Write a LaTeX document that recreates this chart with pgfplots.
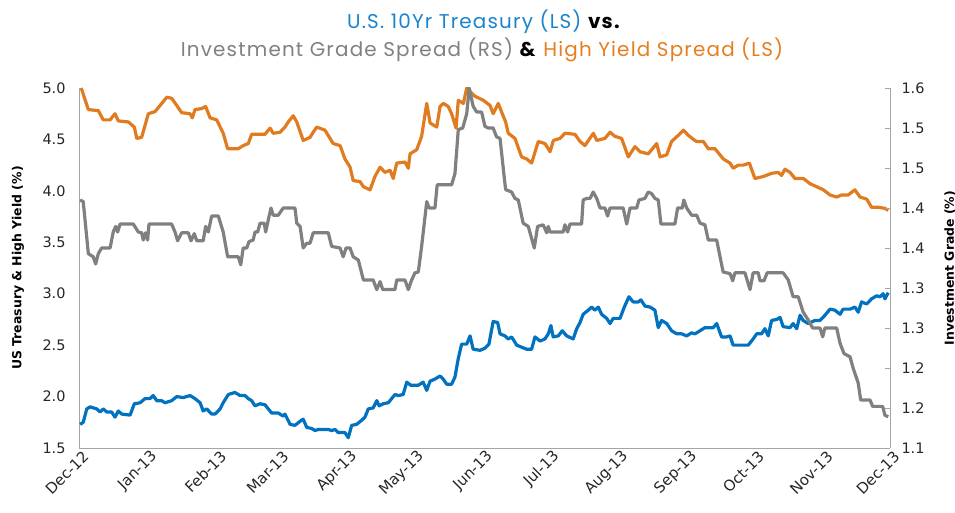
\documentclass[border=0pt]{standalone}
\usepackage{fontspec}
\usepackage{pgfplots}
\pgfplotsset{compat=1.18}
\setmainfont{DejaVu Sans}
\newfontfamily\titlefont[LetterSpace=6]{Poppins}
\definecolor{cBlue}{RGB}{0,114,192}
\definecolor{cOrange}{RGB}{225,123,32}
\definecolor{cGray}{RGB}{128,128,128}
\definecolor{tBlue}{RGB}{25,132,205}
\definecolor{tGray}{RGB}{128,128,128}
\definecolor{tOrange}{RGB}{230,125,30}
\definecolor{axisgray}{RGB}{165,165,165}
\begin{document}
\begin{tikzpicture}
\useasboundingbox (-79bp,-65bp) rectangle (876bp,448bp);
\begin{axis}[
  at={(0,0)}, anchor=south west,
  scale only axis, width=811bp, height=360bp,
  xmin=0, xmax=365, ymin=1.5, ymax=5.0,
  axis x line*=bottom, axis y line*=left,
  axis line style={draw=axisgray, line width=0.8bp, -},
  xtick={0,31,62,90,121,151,182,212,243,274,304,335,365},
  xticklabels={Dec-12,Jan-13,Feb-13,Mar-13,Apr-13,May-13,Jun-13,Jul-13,Aug-13,Sep-13,Oct-13,Nov-13,Dec-13},
  ytick={1.5,2.0,2.5,3.0,3.5,4.0,4.5,5.0},
  yticklabels={1.5,2.0,2.5,3.0,3.5,4.0,4.5,5.0},
  major tick length=0pt,
  tick label style={font=\fontsize{14.5}{16}\selectfont, text=black!85},
  xticklabel style={rotate=45, anchor=east, xshift=4bp, yshift=-9bp, font=\fontsize{15}{16}\selectfont},
  yticklabel style={anchor=east, xshift=-10bp},
  ylabel={US Treasury \& High Yield (\%)},
  ylabel style={font=\bfseries\fontsize{12.5}{14}\selectfont, at={(axis description cs:-0.0752,0.5)}, anchor=center},
]
\addplot[cOrange, line width=3.2bp, line join=round] coordinates {
(1.0,5.00)(4.2,4.79)(8.7,4.78)(10.9,4.69)(14.0,4.69)(16.2,4.75)(17.7,4.68)(22.2,4.67)(24.9,4.62)(26.0,4.51)(28.2,4.52)(31.2,4.75)(34.2,4.77)(36.5,4.83)(39.5,4.91)(41.7,4.90)(44.0,4.83)(46.2,4.76)(50.0,4.75)(51.0,4.71)(52.2,4.79)(55.2,4.80)(57.0,4.82)(59.0,4.71)(62.0,4.69)(64.9,4.56)(66.9,4.41)(71.7,4.41)(73.9,4.44)(76.2,4.46)(77.7,4.55)(83.7,4.55)(86.0,4.61)(87.4,4.56)(90.5,4.57)(92.7,4.62)(94.2,4.67)(96.4,4.73)(98.0,4.67)(100.9,4.49)(104.0,4.52)(105.4,4.57)(107.0,4.62)(110.7,4.59)(114.4,4.46)(117.5,4.44)(119.7,4.31)(122.0,4.23)(123.4,4.10)(126.5,4.09)(128.0,4.04)(131.0,4.01)(133.2,4.14)(135.5,4.23)(137.7,4.18)(140.0,4.20)(141.4,4.12)(143.0,4.27)(146.7,4.28)(148.2,4.22)(149.0,4.36)(152.0,4.40)(154.2,4.53)(156.5,4.85)(158.0,4.66)(161.0,4.62)(162.5,4.82)(164.0,4.85)(166.2,4.82)(167.7,4.75)(169.7,4.61)(170.7,4.88)(173.0,4.85)(174.5,5.00)(176.7,4.95)(178.2,4.92)(182.0,4.88)(185.0,4.83)(186.4,4.75)(188.7,4.85)(190.5,4.75)(192.0,4.67)(193.2,4.56)(196.2,4.51)(199.2,4.33)(201.5,4.31)(203.7,4.27)(206.7,4.48)(209.7,4.46)(212.0,4.38)(213.5,4.49)(216.5,4.51)(218.7,4.56)(223.2,4.55)(225.5,4.48)(227.7,4.44)(231.5,4.56)(233.0,4.49)(236.7,4.51)(239.0,4.57)(241.2,4.53)(244.2,4.51)(247.2,4.33)(250.2,4.43)(252.5,4.38)(256.2,4.36)(260.0,4.46)(261.5,4.33)(264.5,4.35)(266.7,4.48)(269.7,4.54)(272.0,4.59)(274.2,4.54)(277.2,4.49)(278.0,4.48)(281.0,4.48)(283.2,4.41)(286.2,4.41)(290.0,4.31)(293.0,4.27)(294.4,4.22)(296.7,4.25)(299.0,4.25)(301.7,4.27)(304.2,4.12)(308.0,4.14)(311.7,4.17)(314.7,4.18)(316.2,4.15)(317.7,4.21)(320.0,4.18)(322.2,4.12)(326.0,4.12)(329.0,4.07)(332.0,4.04)(335.0,4.01)(338.0,3.96)(341.0,3.94)(343.2,3.96)(346.2,3.96)(349.2,4.01)(351.5,3.94)(354.5,3.92)(356.7,3.84)(359.7,3.84)(362.7,3.83)(364.2,3.81)
};
\addplot[cBlue, line width=3.2bp, line join=round] coordinates {
(0.5,1.73)(1.9,1.75)(3.5,1.88)(5.0,1.90)(8.0,1.88)(9.5,1.85)(10.9,1.88)(12.5,1.85)(14.7,1.85)(16.2,1.80)(17.7,1.86)(19.2,1.83)(23.0,1.82)(24.9,1.93)(27.5,1.94)(29.7,1.98)(32.0,1.98)(33.4,2.01)(35.0,1.96)(37.2,1.96)(38.7,1.94)(41.7,1.96)(44.0,2.00)(46.9,1.99)(50.0,2.01)(52.2,1.98)(54.5,1.94)(55.9,1.86)(57.5,1.88)(59.7,1.83)(61.2,1.83)(63.5,1.88)(64.9,1.94)(67.2,2.02)(70.2,2.04)(72.5,2.01)(74.7,2.01)(76.2,1.98)(77.7,1.96)(79.2,1.91)(81.5,1.93)(83.7,1.92)(85.2,1.88)(86.7,1.84)(89.7,1.84)(91.9,1.81)(92.7,1.83)(95.0,1.73)(97.2,1.72)(99.5,1.76)(100.9,1.78)(102.5,1.70)(104.7,1.69)(106.2,1.67)(107.7,1.68)(109.9,1.68)(112.2,1.68)(113.7,1.67)(115.2,1.68)(116.7,1.65)(119.7,1.65)(121.2,1.60)(122.7,1.72)(125.0,1.73)(127.2,1.77)(128.7,1.80)(130.2,1.88)(132.4,1.89)(134.0,1.96)(135.1,1.91)(136.9,1.93)(139.2,1.94)(140.7,1.98)(142.2,2.02)(143.7,2.01)(145.9,2.02)(147.5,2.14)(149.3,2.11)(152.7,2.11)(154.9,2.14)(156.5,2.06)(158.0,2.15)(160.2,2.17)(162.5,2.20)(163.9,2.17)(165.5,2.12)(167.7,2.12)(169.2,2.19)(170.7,2.37)(172.2,2.51)(174.5,2.51)(176.0,2.59)(177.4,2.46)(180.5,2.45)(182.7,2.47)(184.5,2.51)(186.4,2.73)(188.4,2.72)(189.5,2.61)(191.7,2.59)(193.2,2.56)(194.7,2.58)(197.0,2.50)(199.2,2.48)(201.5,2.46)(203.7,2.46)(205.2,2.58)(207.5,2.54)(209.7,2.56)(211.2,2.61)(212.4,2.69)(213.4,2.58)(215.7,2.59)(217.5,2.64)(219.5,2.59)(222.4,2.56)(224.0,2.66)(225.5,2.72)(226.9,2.80)(229.2,2.84)(230.7,2.87)(232.2,2.84)(233.7,2.87)(235.2,2.80)(237.5,2.76)(239.0,2.71)(240.4,2.76)(243.5,2.76)(245.4,2.87)(247.5,2.97)(249.4,2.92)(251.7,2.92)(252.9,2.94)(254.7,2.88)(257.0,2.87)(259.2,2.84)(260.7,2.67)(262.2,2.74)(264.5,2.71)(266.7,2.64)(269.0,2.61)(271.2,2.61)(273.5,2.59)(275.7,2.62)(277.2,2.61)(279.5,2.64)(281.7,2.67)(285.4,2.67)(287.0,2.71)(289.2,2.58)(291.5,2.58)(293.0,2.59)(294.4,2.50)(297.5,2.50)(301.2,2.50)(303.4,2.56)(305.0,2.61)(307.2,2.61)(308.7,2.66)(310.2,2.59)(311.7,2.74)(314.0,2.75)(315.5,2.77)(316.9,2.68)(320.0,2.67)(321.4,2.71)(323.0,2.66)(324.5,2.79)(325.9,2.74)(328.2,2.71)(331.2,2.74)(333.5,2.74)(335.7,2.79)(338.0,2.85)(340.2,2.84)(342.5,2.80)(343.9,2.85)(347.0,2.85)(349.2,2.87)(350.7,2.82)(352.2,2.92)(354.5,2.90)(356.7,2.95)(359.0,2.98)(360.5,2.97)(361.9,3.00)(362.7,2.95)(364.2,3.01)
};
\end{axis}
\begin{axis}[
  at={(0,0)}, anchor=south west,
  scale only axis, width=811bp, height=360bp,
  xmin=0, xmax=365, ymin=1.10, ymax=1.55,
  axis x line=none, axis y line*=right,
  axis line style={draw=axisgray, line width=0.8bp, -},
  ytick={1.10,1.15,1.20,1.25,1.30,1.35,1.40,1.45,1.50,1.55},
  yticklabels={1.1,1.2,1.2,1.3,1.3,1.4,1.4,1.5,1.5,1.6},
  major tick length=5bp,
  tick style={draw=axisgray, line width=0.8bp},
  tick label style={font=\fontsize{14.5}{16}\selectfont, text=black!85},
  yticklabel style={anchor=west, xshift=8bp},
  ylabel={Investment Grade (\%)},
  ylabel style={font=\bfseries\fontsize{12.5}{14}\selectfont, at={(axis description cs:1.074,0.5)}, anchor=center, rotate=0},
]
\addplot[cGray, line width=3.2bp, line join=round] coordinates {
(0.5,1.410)(1.9,1.408)(4.2,1.343)(6.4,1.339)(7.5,1.330)(8.7,1.343)(10.2,1.350)(14.0,1.350)(15.4,1.370)(16.5,1.377)(17.4,1.370)(18.5,1.380)(24.4,1.380)(26.7,1.370)(28.2,1.369)(28.9,1.360)(30.0,1.369)(30.9,1.360)(31.5,1.380)(41.7,1.380)(43.2,1.370)(44.4,1.359)(46.2,1.369)(49.2,1.369)(50.4,1.359)(51.9,1.368)(53.0,1.359)(55.9,1.359)(57.0,1.377)(58.2,1.370)(59.7,1.390)(62.7,1.390)(64.9,1.370)(66.9,1.339)(71.7,1.339)(72.8,1.329)(73.9,1.350)(75.5,1.350)(76.5,1.358)(78.4,1.360)(79.2,1.370)(80.4,1.370)(81.5,1.381)(83.4,1.381)(84.0,1.370)(85.5,1.389)(86.4,1.400)(87.4,1.391)(89.7,1.391)(91.9,1.400)(97.2,1.400)(98.0,1.381)(99.5,1.377)(100.9,1.350)(102.5,1.356)(104.0,1.356)(105.4,1.369)(112.2,1.369)(113.7,1.352)(117.5,1.350)(118.9,1.339)(120.2,1.350)(122.0,1.350)(123.4,1.339)(125.7,1.335)(128.0,1.310)(132.4,1.310)(134.0,1.298)(135.5,1.308)(136.7,1.298)(142.2,1.298)(143.0,1.310)(146.7,1.310)(148.2,1.298)(149.7,1.310)(151.2,1.319)(152.7,1.320)(154.2,1.352)(156.5,1.408)(157.6,1.400)(160.2,1.400)(161.2,1.429)(167.7,1.429)(169.2,1.443)(170.7,1.498)(172.7,1.500)(174.5,1.518)(175.6,1.550)(177.4,1.527)(179.0,1.520)(181.2,1.520)(182.7,1.502)(184.2,1.500)(186.4,1.500)(187.9,1.489)(189.5,1.487)(191.0,1.448)(192.0,1.423)(194.7,1.420)(196.2,1.412)(197.7,1.410)(199.9,1.381)(202.2,1.377)(204.9,1.350)(206.4,1.377)(208.9,1.379)(210.5,1.369)(211.2,1.377)(212.0,1.370)(217.9,1.370)(218.7,1.379)(219.9,1.370)(221.0,1.380)(226.2,1.380)(226.9,1.410)(228.5,1.412)(230.0,1.412)(231.4,1.420)(233.0,1.412)(234.5,1.400)(236.7,1.400)(237.9,1.390)(239.0,1.400)(244.9,1.400)(246.5,1.380)(248.0,1.400)(251.0,1.400)(252.0,1.410)(254.7,1.412)(256.2,1.420)(257.7,1.418)(259.2,1.412)(260.7,1.410)(261.9,1.380)(268.2,1.380)(269.4,1.400)(271.5,1.400)(272.2,1.410)(273.5,1.400)(275.7,1.391)(278.0,1.391)(279.5,1.381)(281.7,1.379)(283.2,1.360)(287.0,1.360)(288.5,1.339)(289.9,1.320)(293.0,1.318)(294.2,1.309)(295.2,1.319)(299.7,1.319)(302.0,1.298)(303.4,1.319)(305.7,1.319)(306.5,1.309)(308.3,1.309)(309.7,1.319)(316.9,1.319)(319.2,1.310)(321.4,1.289)(323.7,1.289)(325.9,1.270)(328.2,1.260)(330.2,1.250)(333.5,1.250)(334.7,1.239)(335.7,1.250)(341.0,1.250)(342.5,1.231)(344.3,1.218)(347.0,1.214)(348.4,1.200)(350.7,1.181)(351.8,1.160)(356.0,1.160)(357.2,1.152)(361.7,1.152)(362.7,1.141)(364.2,1.139)
};
\end{axis}
\node[anchor=base] at (405bp,419bp) {\titlefont\fontsize{20}{22}\selectfont\textcolor{tBlue}{U.S. 10Yr Treasury (LS)} \textbf{vs.}};
\node[anchor=base] at (403bp,391bp) {\titlefont\fontsize{20}{22}\selectfont\textcolor{tGray}{Investment Grade Spread (RS)} \textbf{\&} \textcolor{tOrange}{High Yield Spread (LS)}};
\end{tikzpicture}
\end{document}
